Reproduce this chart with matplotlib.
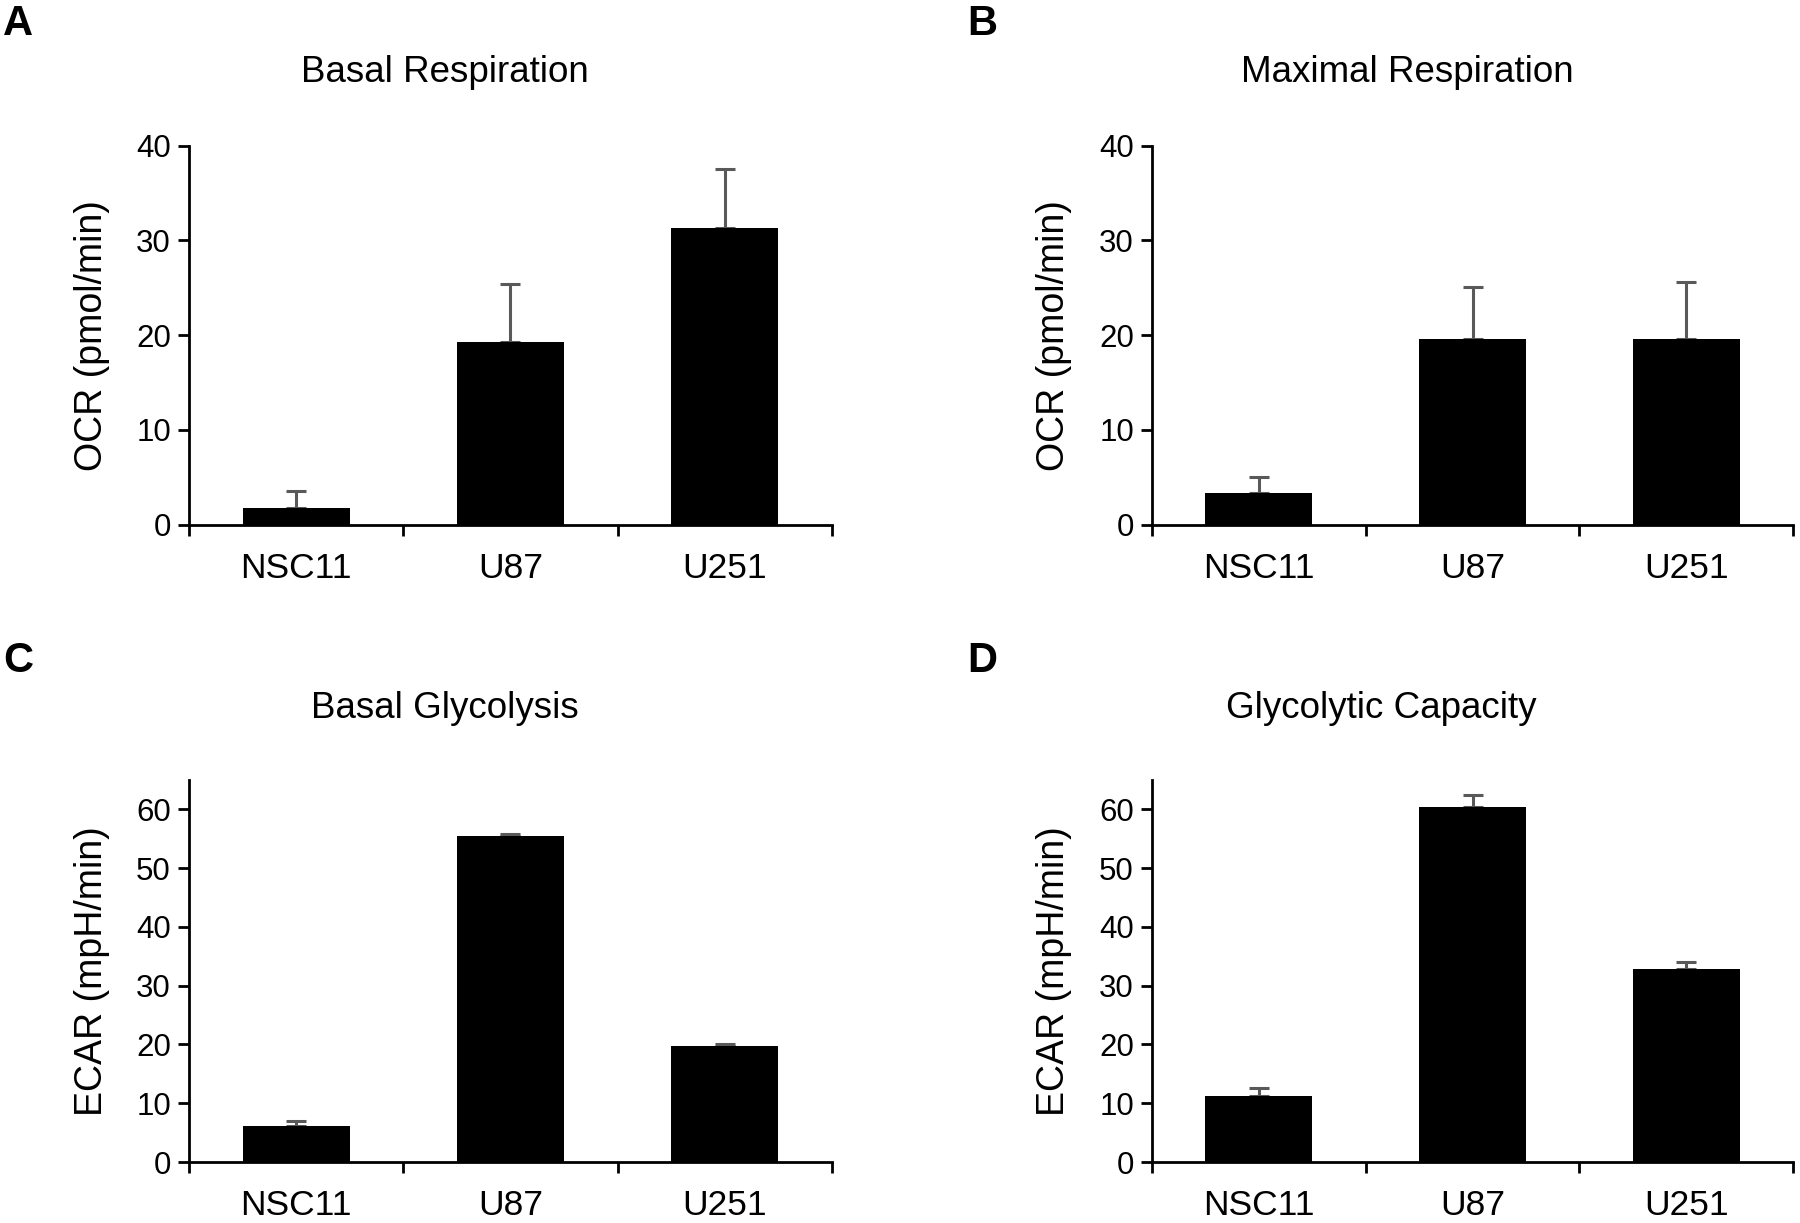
import matplotlib
matplotlib.use("Agg")
import matplotlib.pyplot as plt
import numpy as np

plt.rcParams['font.family'] = ['Liberation Sans', 'DejaVu Sans']

categories = ["NSC11", "U87", "U251"]

basal_resp = [1.8, 19.3, 31.3]
basal_resp_err = [1.75, 6.1, 6.3]
max_resp = [3.35, 19.65, 19.55]
max_resp_err = [1.7, 5.45, 6.05]
basal_glyc = [6.2, 55.4, 19.7]
basal_glyc_err = [0.85, 0.35, 0.35]
glyc_cap = [11.2, 60.45, 32.8]
glyc_cap_err = [1.45, 2.05, 1.3]

titles = ["Basal Respiration", "Maximal Respiration", "Basal Glycolysis", "Glycolytic Capacity"]
ylabels = ["OCR (pmol/min)", "OCR (pmol/min)", "ECAR (mpH/min)", "ECAR (mpH/min)"]
letters = ["A", "B", "C", "D"]
yticks_ocr = [0, 10, 20, 30, 40]
yticks_ecar = [0, 10, 20, 30, 40, 50, 60]

W, H = 1800, 1223
fig = plt.figure(figsize=(W / 100, H / 100), dpi=100)

panels = [
    (basal_resp, basal_resp_err, yticks_ocr, 40, (189, 832, 145.8, 524.6), (445, 72), (18, 24), 92),
    (max_resp, max_resp_err, yticks_ocr, 40, (1152, 1793, 145.8, 524.6), (1407, 72), (982, 24), 1054),
    (basal_glyc, basal_glyc_err, yticks_ecar, 65, (189, 832, 780, 1162), (445, 709), (18, 661), 92),
    (glyc_cap, glyc_cap_err, yticks_ecar, 65, (1152, 1793, 780, 1162), (1381, 709), (982, 661), 1054),
]

for i, (vals, errs, yt, ytop, box, tpos, lpos, ylx) in enumerate(panels):
    x0, x1, ytp, ybt = box
    ax = fig.add_axes([x0 / W, 1 - ybt / H, (x1 - x0) / W, (ybt - ytp) / H])
    x = np.arange(len(categories))
    ax.bar(x, vals, width=0.5, color="black", zorder=2)
    ax.errorbar(x, vals, yerr=[np.zeros(len(errs)), errs], fmt="none",
                ecolor="#595959", elinewidth=2.2, capsize=7, capthick=2.2, zorder=1)
    ax.set_xlim(-0.5, 2.5)
    ax.set_ylim(0, ytop)
    ax.set_yticks(yt)
    ax.set_yticklabels([str(v) for v in yt], fontsize=22.5)
    ax.set_xticks([-0.5, 0.5, 1.5, 2.5])
    ax.set_xticklabels([])
    ax.set_xticks(x, minor=True)
    ax.set_xticklabels(categories, minor=True, fontsize=25.5)
    ax.tick_params(axis="x", which="minor", length=0, pad=19.5)
    ax.tick_params(axis="x", which="major", direction="out", length=8, width=2)
    ax.tick_params(axis="y", direction="out", length=8, width=2, pad=5)
    for s in ["top", "right"]:
        ax.spines[s].set_visible(False)
    for s in ["left", "bottom"]:
        ax.spines[s].set_linewidth(2)
    yc = (ytp + ybt) / 2
    fig.text(ylx / W, 1 - yc / H, ylabels[i], fontsize=27, rotation=90, ha="center", va="center")
    fig.text(tpos[0] / W, 1 - tpos[1] / H, titles[i], fontsize=26.5, ha="center", va="center")
    fig.text(lpos[0] / W, 1 - lpos[1] / H, letters[i], fontsize=30, fontweight="bold", ha="center", va="center")

fig.savefig("out.png", dpi=100, facecolor="white")
